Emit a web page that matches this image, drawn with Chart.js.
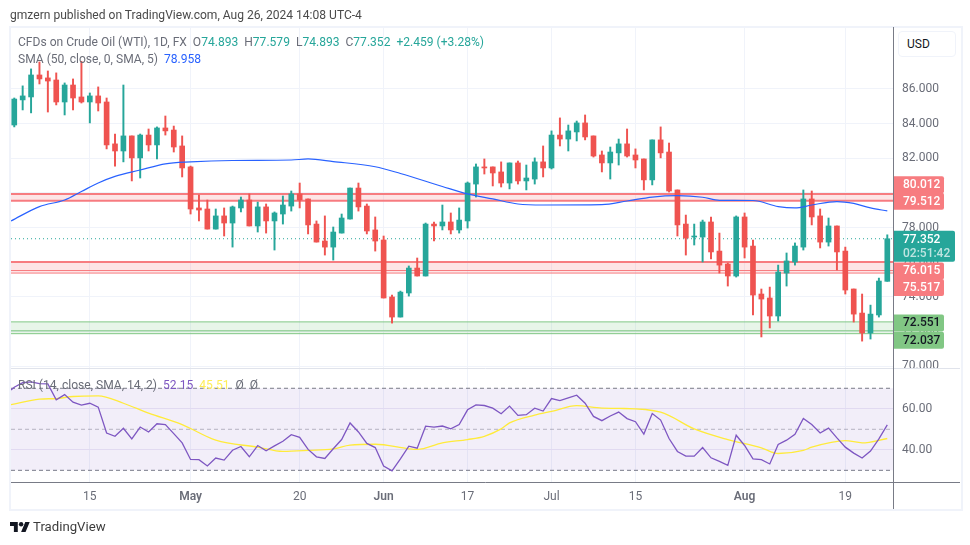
<!DOCTYPE html>
<html>
<head>
<meta charset="utf-8">
<style>
  html, body { margin: 0; padding: 0; background: #fff; }
  #wrap { position: relative; width: 970px; height: 545px; overflow: hidden; font-family: Roboto, sans-serif; }
  #frame { position: absolute; left: 9px; top: 26px; width: 950px; height: 481px; border: 2px solid #f0f3fa; }
  canvas { position: absolute; left: 0; top: 0; }
  .txt { position: absolute; white-space: nowrap; font-size: 12.07px; line-height: 16px; color: #6a6d78; }
  .up { color: #26a69a; }
  #usd { position: absolute; left: 898px; top: 31px; width: 56px; height: 24px; border: 1.5px solid #f0f3fa; border-radius: 4px; font-size: 12px; line-height: 24px; color: #131722; text-indent: 8px; background: #fff; }
</style>
</head>
<body>
<div id="wrap">
  <div id="frame"></div>
  <canvas id="grafico" width="970" height="545"></canvas>
  <div class="txt" style="left:10px;top:7px;color:#4a4a4a;">gmzern published on TradingView.com, Aug 26, 2024 14:08 UTC-4</div>
  <div class="txt" style="left:18px;top:34px;">CFDs on Crude Oil (WTI), 1D, FX &nbsp;O<span class="up">74.893</span> &nbsp;H<span class="up">77.579</span> &nbsp;L<span class="up">74.893</span> &nbsp;C<span class="up">77.352</span> &nbsp;<span class="up">+2.459 (+3.28%)</span></div>
  <div class="txt" style="left:18px;top:51px;">SMA (50, close, 0, SMA, 5) &nbsp;<span style="color:#2962ff;">78.958</span></div>
  <div class="txt" style="left:18px;top:377px;">RSI (14, close, SMA, 14, 2) &nbsp;<span style="color:#7e57c2;">52.15</span> &nbsp;<span style="color:#ffee58;">45.51</span> &nbsp;Ø &nbsp;Ø</div>
  <div id="usd">USD</div>
  <svg style="position:absolute;left:10px;top:521px;" width="20" height="12" viewBox="0 4 36 18"><path fill="#131722" d="M14 22H7V11H0V4h14v18zM28 22h-8l7.5-18h8L28 22z"/><circle fill="#131722" cx="20" cy="8" r="4"/></svg>
  <div class="txt" style="left:33px;top:519px;font-size:13.2px;color:#3c3c3c;">TradingView</div>
</div>
<script src="https://cdn.jsdelivr.net/npm/chart.js@4"></script>
<script>
// daily candles, Apr 2 to Aug 26 2024
const opens = [83.92,85.37,85.54,86.81,86.64,86.52,85.25,86.23,85.54,85.25,85.60,85.25,82.83,82.42,83.29,82.02,83.34,82.77,83.75,83.63,82.71,81.50,79.13,79.07,77.91,78.67,78.26,79.13,79.59,78.09,79.19,78.38,78.78,79.24,79.94,79.65,78.20,77.22,76.87,77.68,78.49,80.28,79.24,77.86,77.28,73.99,72.83,74.22,75.66,75.20,78.20,78.09,78.32,77.86,78.38,80.51,81.50,81.50,81.21,80.57,81.73,80.69,80.80,81.79,81.44,83.34,83.11,83.52,84.04,83.29,82.19,81.73,82.31,82.83,82.19,81.96,80.75,83.06,82.36,80.17,78.20,77.45,77.45,78.32,76.64,75.89,75.20,78.61,76.93,74.16,73.93,72.89,75.37,76.01,76.87,79.65,78.67,77.16,78.09,76.64,74.45,73.06,71.91,72.95,74.893];
const highs = [85.48,86.18,87.16,87.56,87.04,86.93,86.35,86.58,87.60,85.77,86.12,85.48,83.40,86.23,83.29,83.40,83.69,83.81,84.44,83.86,83.29,81.55,79.88,79.59,79.07,79.13,79.24,79.76,79.94,79.47,79.36,78.90,79.82,80.11,80.57,79.65,78.38,78.67,78.03,78.78,80.28,80.57,79.36,78.61,77.51,74.10,74.33,75.78,76.24,78.26,78.32,79.30,78.84,79.13,80.63,81.67,81.96,81.50,81.79,81.73,81.84,81.61,82.02,82.71,83.58,84.33,83.92,84.15,84.50,83.29,82.42,82.65,83.11,83.69,82.54,81.96,83.06,83.81,82.88,80.17,78.72,78.20,78.43,78.61,77.68,75.95,78.67,78.84,77.28,74.45,74.56,75.83,76.53,77.11,80.17,80.11,79.07,78.55,78.09,76.87,74.45,74.16,73.52,75.08,77.579];
const lows = [83.81,84.79,84.62,86.29,84.67,85.08,84.50,84.79,85.19,84.04,84.73,82.54,81.55,81.79,80.69,80.86,82.42,81.96,83.34,82.36,80.92,78.78,78.38,77.91,77.91,77.51,76.87,78.90,78.09,77.74,77.68,76.70,78.20,78.95,79.13,77.63,77.16,76.41,76.12,77.68,78.49,78.95,77.63,76.64,73.93,72.48,72.83,74.04,75.20,75.20,77.22,77.86,77.63,77.68,77.97,79.76,81.09,80.40,80.34,80.23,80.51,80.17,80.51,80.92,81.38,82.71,82.42,83.00,83.06,82.07,81.21,80.80,81.61,82.07,81.44,80.17,80.46,82.02,80.05,77.51,76.41,76.99,76.01,76.18,75.37,74.62,75.14,76.24,72.95,71.68,72.20,72.60,74.62,75.83,76.70,78.15,76.82,76.93,75.55,74.16,72.54,71.44,71.56,72.83,74.893];
const closes = [85.42,85.60,86.81,86.58,86.46,85.25,86.23,85.48,85.25,85.60,85.19,82.77,82.42,83.29,82.02,83.34,82.77,83.75,83.58,82.65,81.44,79.07,79.01,77.91,78.67,78.26,79.19,79.59,78.09,79.19,78.38,78.84,79.30,79.94,79.59,78.15,77.16,76.87,77.74,78.55,80.28,79.19,77.80,77.22,73.93,72.83,74.27,75.66,75.20,78.20,78.09,78.32,77.86,78.43,80.57,81.50,81.44,81.15,80.57,81.73,80.69,80.86,81.79,81.44,83.34,83.11,83.58,84.04,83.23,82.13,81.73,82.36,82.83,82.13,81.90,80.75,83.06,82.31,80.11,78.15,77.39,77.51,78.32,76.59,75.83,75.20,78.61,76.87,74.10,73.87,72.89,75.43,76.07,76.93,79.65,78.61,77.16,78.09,76.59,74.39,73.00,71.91,73.00,74.91,77.352];

const tickIndex = [9, 21, 34, 44, 54, 64, 74, 87, 99];
const tickLabels = ['15', 'May', '20', 'Jun', '17', 'Jul', '15', 'Aug', '19'];
const priceTicks = [70, 72, 74, 76, 78, 80, 82, 84, 86];
const rsiTicks = [40, 60];

// the indicator lines start a little left of the first candle, hence the negative index
const smaIndex = [-0.39,3,6,8,10,12,15,18,21,26,33,35,38,43,46,51,54,57,60,63,70,73,76,79,82,84,88,91,93,95,98,100,102,104];
const smaValues = [78.38,79.21,79.59,80.08,80.57,80.95,81.32,81.68,81.79,81.87,81.90,81.96,81.81,81.51,81.12,80.37,79.94,79.65,79.36,79.30,79.32,79.53,79.76,79.84,79.75,79.57,79.56,79.21,79.13,79.30,79.50,79.39,79.13,78.958];

const rsiLead = 69.2;
const rsiValues = [70.5,72.7,73.1,72.3,72.1,64.4,66.9,63.2,61.8,62.7,60.8,48.2,46.6,50.5,45.3,51.1,48.7,52.7,52.3,47.9,43.4,35.3,35.2,32.1,36.0,35.0,39.8,41.6,36.6,42.1,39.5,41.9,44.2,47.4,46.1,40.2,36.6,35.8,40.5,45.0,53.1,48.7,43.1,41.1,32.1,29.7,35.6,41.8,40.8,51.5,51.1,51.6,50.2,52.3,59.5,61.9,61.6,60.3,57.6,61.3,56.8,57.1,60.3,58.9,65.0,64.0,65.3,66.6,62.7,56.3,54.2,56.5,58.4,55.2,53.7,47.7,57.7,54.5,45.5,39.2,36.9,36.9,41.1,36.1,34.4,32.4,47.1,42.1,35.6,35.2,33.1,42.6,44.7,47.6,55.3,52.3,48.2,50.6,45.8,41.3,38.4,36.0,39.4,45.3,52.15];
const rsiSmaIndex = [-0.39,3,5,7,10,13,16,20,24,29,32,35,38,40,43,47,48,51,54,56,58,59,62,64,67,70,72,77,81,85,89,91,94,95,99,101,104];
const rsiSmaValues = [62.0,64.7,65.0,66.0,66.3,62.7,57.9,52.3,44.7,41.3,39.2,39.7,40.5,42.3,42.7,40.5,40.2,43.4,45.0,46.6,50.2,53.1,56.9,58.7,61.5,60.3,60.2,58.4,50.2,45.0,41.0,38.2,39.7,41.3,44.5,43.4,45.51];

// support / resistance zones as they are drawn
const redZoneHigh = [79.93, 79.55];
const redZoneLow = [76.015, 75.517, 75.37];
const greenZone = [72.551, 72.037, 71.87];
const lastPrice = 77.352;
const countdown = '02:51:42';
const redLabels = ['80.012', '79.512', '76.015', '75.517'];
const greenLabels = ['72.551', '72.037'];

const UP = '#26a69a', DOWN = '#ef5350';
const RED_LINE = '#f77c80', GREEN_LINE = '#81c784';
const X_MIN = -0.39, X_MAX = 104.68;
const FONT = 'Roboto, sans-serif';
const candleColors = closes.map((c, i) => c >= opens[i] ? UP : DOWN);

function hline(yValue, yAxisID, color, width, extra) {
    return Object.assign({
        type: 'line',
        yAxisID: yAxisID,
        data: [{ x: X_MIN, y: yValue }, { x: X_MAX, y: yValue }],
        borderColor: color,
        borderWidth: width,
        pointRadius: 0,
        order: 10
    }, extra || {});
}

const datasets = [
    // zones, fill goes to the next dataset in the list
    hline(redZoneHigh[0], 'y', RED_LINE, 2, { fill: '+1', backgroundColor: 'rgba(247,124,128,0.2)' }),
    hline(redZoneHigh[1], 'y', RED_LINE, 2),
    hline(redZoneLow[0], 'y', RED_LINE, 2, { fill: { target: 4 }, backgroundColor: 'rgba(247,124,128,0.2)' }),
    hline(redZoneLow[1], 'y', RED_LINE, 1),
    hline(redZoneLow[2], 'y', RED_LINE, 1),
    hline(greenZone[0], 'y', GREEN_LINE, 1, { fill: { target: 7 }, backgroundColor: 'rgba(129,199,132,0.18)' }),
    hline(greenZone[1], 'y', GREEN_LINE, 1),
    hline(greenZone[2], 'y', GREEN_LINE, 1),
    hline(lastPrice, 'y', UP, 1, { borderDash: [1, 3], order: 9 }),
    {
        type: 'bar',
        data: highs.map((h, i) => ({ x: i, y: [lows[i], h] })),
        backgroundColor: candleColors,
        barThickness: 1.3,
        grouped: false,
        order: 5
    },
    {
        type: 'bar',
        data: opens.map((o, i) => ({ x: i, y: [o, closes[i]] })),
        backgroundColor: candleColors,
        barThickness: 5,
        minBarLength: 1,
        grouped: false,
        order: 4
    },
    {
        type: 'line',
        data: smaIndex.map((x, i) => ({ x: x, y: smaValues[i] })),
        borderColor: '#2962ff',
        borderWidth: 1.2,
        pointRadius: 0,
        cubicInterpolationMode: 'monotone',
        order: 3
    },
    // rsi pane
    hline(70, 'rsi', '#787b86', 1, { borderDash: [4, 3], fill: '+1', backgroundColor: 'rgba(126,87,194,0.1)' }),
    hline(30, 'rsi', '#787b86', 1, { borderDash: [4, 3] }),
    hline(50, 'rsi', 'rgba(120,123,134,0.5)', 1, { borderDash: [4, 3] }),
    {
        type: 'line',
        yAxisID: 'rsi',
        data: rsiSmaIndex.map((x, i) => ({ x: x, y: rsiSmaValues[i] })),
        borderColor: '#ffeb3b',
        borderWidth: 1.3,
        pointRadius: 0,
        cubicInterpolationMode: 'monotone',
        order: 2
    },
    {
        type: 'line',
        yAxisID: 'rsi',
        data: [{ x: X_MIN, y: rsiLead }].concat(rsiValues.map((v, i) => ({ x: i, y: v }))),
        borderColor: '#7e57c2',
        borderWidth: 1.3,
        pointRadius: 0,
        order: 1
    }
];

function drawBox(ctx, right, top, h, color) {
    ctx.fillStyle = color;
    ctx.beginPath();
    ctx.roundRect(894, top, right - 894, h, [0, 2, 2, 0]);
    ctx.fill();
}

const axisBoxes = {
    id: 'axisBoxes',
    afterDraw(chart) {
        const ctx = chart.ctx;
        const y = chart.scales.y;
        ctx.save();

        // pane separator and right axis line
        ctx.strokeStyle = '#e0e3eb';
        ctx.beginPath();
        ctx.moveTo(11, 368.5);
        ctx.lineTo(960, 368.5);
        ctx.stroke();
        ctx.strokeStyle = '#787b86';
        ctx.beginPath();
        ctx.moveTo(893.5, 27);
        ctx.lineTo(893.5, 509);
        ctx.moveTo(11, 482.5);
        ctx.lineTo(960, 482.5);
        ctx.stroke();

        ctx.font = '500 12px ' + FONT;
        ctx.textBaseline = 'middle';

        // last price
        const py = y.getPixelForValue(lastPrice);
        drawBox(ctx, 955, py - 8, 31, UP);
        ctx.fillStyle = '#fff';
        ctx.fillText(lastPrice.toFixed(3), 903, py + 1);
        ctx.fillStyle = 'rgba(255,255,255,0.7)';
        ctx.fillText(countdown, 903, py + 15);

        // zone labels are pushed off their line so they do not overlap
        const redShift = [-8, 0, 9, 17];
        redLabels.forEach((t, i) => {
            const ly = y.getPixelForValue(Number(t)) + redShift[i];
            drawBox(ctx, 944, ly - 8.5, 17, RED_LINE);
            ctx.fillStyle = '#fff';
            ctx.fillText(t, 903, ly + 0.5);
        });
        const greenShift = [1, 9.5];
        greenLabels.forEach((t, i) => {
            const ly = y.getPixelForValue(Number(t)) + greenShift[i];
            drawBox(ctx, 944, ly - 8.5, 17, GREEN_LINE);
            ctx.fillStyle = '#131722';
            ctx.fillText(t, 903, ly + 0.5);
        });
        ctx.restore();
    }
};

new Chart(document.getElementById('grafico').getContext('2d'), {
    data: { datasets: datasets },
    plugins: [axisBoxes],
    options: {
        responsive: false,
        animation: false,
        layout: { padding: { left: 11, top: 27, right: 10, bottom: 36 } },
        plugins: { legend: { display: false }, tooltip: { enabled: false } },
        scales: {
            x: {
                type: 'linear',
                offset: false,
                min: X_MIN,
                max: X_MAX,
                afterFit(scale) { scale.height = 26.5; },
                afterBuildTicks(scale) { scale.ticks = tickIndex.map(v => ({ value: v })); },
                grid: { color: '#f0f3fa', drawTicks: false, offset: false },
                border: { display: false },
                ticks: {
                    autoSkip: false,
                    maxRotation: 0,
                    padding: 7.5,
                    color: '#6a6d78',
                    callback: value => tickLabels[tickIndex.indexOf(value)],
                    font: ctx => {
                        const label = tickLabels[ctx.index];
                        const bold = label === 'May' || label === 'Jun' || label === 'Aug';
                        return { family: FONT, size: 12, weight: bold ? '600' : '400' };
                    }
                }
            },
            y: {
                position: 'right',
                stack: 'panes',
                stackWeight: 342,
                min: 69.83,
                max: 89.58,
                afterFit(scale) { scale.width = 67; },
                afterBuildTicks(scale) { scale.ticks = priceTicks.map(v => ({ value: v })); },
                grid: { color: '#f0f3fa', drawTicks: false },
                border: { display: false },
                ticks: {
                    padding: 9,
                    color: '#6a6d78',
                    font: { family: FONT, size: 12 },
                    callback: value => value.toFixed(3)
                }
            },
            rsi: {
                position: 'right',
                stack: 'panes',
                stackWeight: 113.5,
                min: 24.06,
                max: 79.4,
                afterFit(scale) { scale.width = 67; },
                afterBuildTicks(scale) { scale.ticks = rsiTicks.map(v => ({ value: v })); },
                grid: { color: '#ece9f6', drawTicks: false },
                border: { display: false },
                ticks: {
                    padding: 9,
                    color: '#6a6d78',
                    font: { family: FONT, size: 12 },
                    callback: value => value.toFixed(2)
                }
            }
        }
    }
});
</script>
</body>
</html>
